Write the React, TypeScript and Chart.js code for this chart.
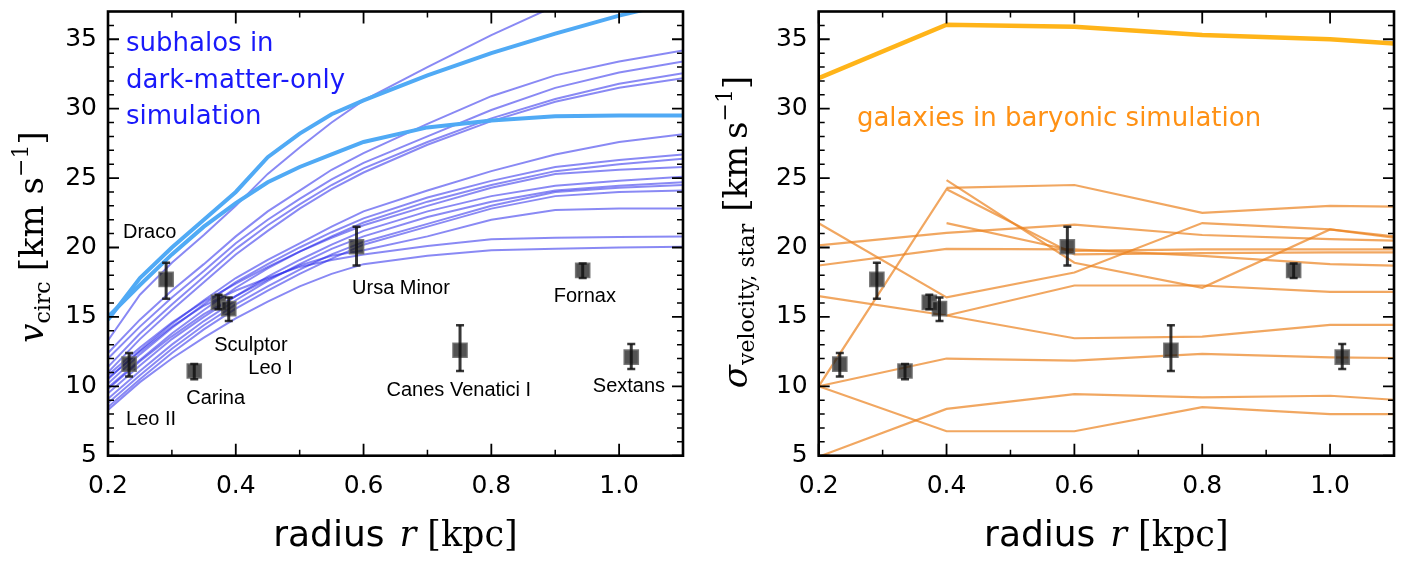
import React, { useEffect, useRef } from 'react';
import { Chart, registerables } from 'chart.js';

Chart.register(...registerables);

// ---------------- data ----------------
const radiusGridDM = [0.2, 0.25, 0.3, 0.35, 0.4, 0.45, 0.5, 0.55, 0.6, 0.7, 0.8, 0.9, 1.0, 1.1];

const dmThickA = [14.8, 17.8, 20.0, 22.0, 24.0, 26.5, 28.2, 29.6, 30.6, 32.4, 34.0, 35.4, 36.7, 37.8];
const dmThickB = [15.0, 17.3, 19.5, 21.5, 23.2, 24.7, 25.8, 26.7, 27.6, 28.65, 29.15, 29.45, 29.5, 29.5];

const dmSub01 = [13.3, 16.6, 18.9, 20.9, 23.0, 25.3, 27.2, 29.0, 30.6, 33.0, 35.3, 37.4, 39.2, 40.8];
const dmSub02 = [12.4, 14.8, 16.9, 18.8, 20.8, 22.6, 24.1, 25.6, 26.8, 28.9, 30.9, 32.4, 33.4, 34.2];
const dmSub03 = [12.0, 14.3, 16.4, 18.3, 20.3, 22.0, 23.5, 24.9, 26.1, 28.0, 29.9, 31.5, 32.6, 33.4];
const dmSub04 = [11.4, 13.8, 15.9, 17.9, 19.9, 21.6, 23.1, 24.5, 25.7, 27.6, 29.3, 30.7, 31.8, 32.55];
const dmSub05 = [11.0, 13.4, 15.5, 17.5, 19.5, 21.2, 22.8, 24.2, 25.4, 27.4, 29.1, 30.5, 31.5, 32.2];
const dmSub06 = [10.5, 12.6, 14.5, 16.2, 17.8, 19.1, 20.3, 21.5, 22.6, 24.1, 25.5, 26.7, 27.6, 28.15];
const dmSub07 = [10.2, 12.3, 14.2, 15.9, 17.5, 18.8, 20.0, 21.1, 22.1, 23.6, 24.8, 25.8, 26.3, 26.7];
const dmSub08 = [9.9, 11.9, 13.8, 15.5, 17.1, 18.5, 19.7, 20.8, 21.8, 23.3, 24.5, 25.5, 26.0, 26.4];
const dmSub09 = [10.8, 12.8, 14.6, 16.1, 17.4, 18.6, 19.7, 20.7, 21.6, 23.0, 24.3, 25.3, 25.6, 25.8];
const dmSub10 = [9.5, 11.5, 13.4, 15.0, 16.5, 17.9, 19.1, 20.2, 21.2, 22.6, 23.7, 24.45, 24.8, 25.1];
const dmSub11 = [9.1, 11.1, 13.0, 14.7, 16.2, 17.6, 18.8, 19.9, 20.8, 22.2, 23.3, 24.1, 24.45, 24.7];
const dmSub12 = [8.8, 10.8, 12.7, 14.4, 15.9, 17.2, 18.4, 19.5, 20.4, 21.7, 23.0, 24.0, 24.3, 24.5];
const dmSub13 = [8.5, 10.5, 12.4, 14.1, 15.6, 16.9, 18.1, 19.2, 20.2, 21.5, 22.8, 23.7, 24.0, 24.1];
const dmSub14 = [9.8, 11.8, 13.6, 15.2, 16.5, 17.7, 18.7, 19.4, 19.8, 20.8, 22.0, 22.7, 22.8, 22.8];
const dmSub15 = [10.6, 12.5, 14.3, 15.8, 16.9, 17.8, 18.6, 19.1, 19.5, 20.1, 20.6, 20.7, 20.75, 20.8];
const dmSub16 = [8.3, 10.3, 12.0, 13.5, 14.9, 16.1, 17.2, 18.1, 18.8, 19.4, 19.8, 19.9, 20.0, 20.05];

const dmThinSeries = [dmSub01, dmSub02, dmSub03, dmSub04, dmSub05, dmSub06, dmSub07, dmSub08,
  dmSub09, dmSub10, dmSub11, dmSub12, dmSub13, dmSub14, dmSub15, dmSub16];

const radiusGridBary = [0.2, 0.4, 0.6, 0.8, 1.0, 1.1];

const baryThick = [32.2, 36.05, 35.9, 35.3, 35.0, 34.7];
const bary01 = [null, 24.3, 24.5, 22.5, 23.0, 22.95];
const bary02 = [10.0, 24.2, 19.5, 19.6, 19.65, 19.65];
const bary03 = [null, 24.85, 18.9, 17.1, 21.3, 20.8];
const bary04 = [null, 21.75, 19.75, 19.87, 19.87, 19.87];
const bary05 = [20.15, 21.05, 21.65, 20.9, 20.6, 20.5];
const bary06 = [21.75, 16.4, 18.2, 21.76, 21.3, 20.7];
const bary07 = [18.7, 19.9, 19.87, 19.4, 18.8, 18.7];
const bary08 = [null, 15.1, 17.26, 17.26, 16.8, 16.8];
const bary09 = [16.5, 15.1, 13.46, 13.58, 14.42, 14.42];
const bary10 = [10.0, 12.0, 11.85, 12.33, 12.09, 12.04];
const bary11 = [10.0, 6.76, 6.76, 8.5, 8.0, 8.0];
const bary12 = [4.93, 8.37, 9.44, 9.2, 9.32, 9.03];

const baryThinSeries = [bary01, bary02, bary03, bary04, bary05, bary06, bary07, bary08,
  bary09, bary10, bary11, bary12];

const galaxyNames = ['Leo II', 'Draco', 'Carina', 'Sculptor', 'Leo I', 'Ursa Minor', 'Canes Venatici I', 'Fornax', 'Sextans'];
const galaxyRadius = [0.233, 0.291, 0.335, 0.373, 0.389, 0.589, 0.751, 0.943, 1.019];
const galaxyVel = [11.6, 17.7, 11.1, 16.05, 15.6, 20.05, 12.6, 18.35, 12.1];
const galaxyErrMinus = [0.9, 1.4, 0.6, 0.5, 0.9, 1.35, 1.5, 0.55, 0.85];
const galaxyErrPlus = [0.8, 1.2, 0.5, 0.55, 0.8, 1.45, 1.8, 0.5, 0.95];

const xMajorTicks = [0.2, 0.4, 0.6, 0.8, 1.0];
const xMinorTicks = [0.3, 0.5, 0.7, 0.9];
const yMajorTicks = [5, 10, 15, 20, 25, 30, 35];
const yMinorTicks = [6, 7, 8, 9, 11, 12, 13, 14, 16, 17, 18, 19, 21, 22, 23, 24, 26, 27, 28, 29, 31, 32, 33, 34, 36];

// ---------------- layout / style ----------------
// galaxy label anchors (left, baseline) in data coordinates
const galaxyLabelAnchor: Record<string, [number, number]> = {
  'Draco': [0.2235, 20.7],
  'Leo II': [0.2282, 7.18],
  'Carina': [0.3224, 8.75],
  'Sculptor': [0.3663, 12.52],
  'Leo I': [0.4196, 10.88],
  'Ursa Minor': [0.582, 16.64],
  'Fornax': [0.8976, 16.07],
  'Canes Venatici I': [0.636, 9.32],
  'Sextans': [0.9588, 9.56],
};

const SANS = '"DejaVu Sans"';
const SERIF = '"DejaVu Serif"';
const LABEL_FONT = '20px "Liberation Sans"';

type Seg = { t: string; font: string; dy?: number; gap?: number };

function drawRich(ctx: CanvasRenderingContext2D, segs: Seg[], x: number, y: number, rotate: boolean, color: string) {
  ctx.save();
  ctx.translate(x, y);
  if (rotate) ctx.rotate(-Math.PI / 2);
  ctx.fillStyle = color;
  ctx.textAlign = 'left';
  ctx.textBaseline = 'alphabetic';
  const widths = segs.map((s) => {
    ctx.font = s.font;
    return ctx.measureText(s.t).width + (s.gap || 0);
  });
  const total = widths.reduce((a, b) => a + b, 0);
  let cx = -total / 2;
  segs.forEach((s, i) => {
    ctx.font = s.font;
    ctx.fillText(s.t, cx, s.dy || 0);
    cx += widths[i];
  });
  ctx.restore();
}

const xTitleSegs: Seg[] = [
  { t: 'radius', font: `36px ${SANS}`, gap: 15 },
  { t: 'r', font: `italic 35px ${SERIF}`, gap: 11 },
  { t: '[kpc]', font: `35px ${SERIF}` },
];

const leftYTitle: Seg[] = [
  { t: 'v', font: `italic 34px ${SERIF}` },
  { t: 'circ', font: `22px ${SERIF}`, dy: 7, gap: 10 },
  { t: '[km s', font: `34px ${SERIF}` },
  { t: '\u22121', font: `22px ${SERIF}`, dy: -15 },
  { t: ']', font: `34px ${SERIF}` },
];

const rightYTitle: Seg[] = [
  { t: '\u03c3', font: `italic 34px ${SERIF}` },
  { t: 'velocity, star', font: `22px ${SERIF}`, dy: 7, gap: 12 },
  { t: '[km\u2009s', font: `34px ${SERIF}` },
  { t: '\u22121', font: `22px ${SERIF}`, dy: -15 },
  { t: ']', font: `34px ${SERIF}` },
];

function framePlugin() {
  return {
    id: 'frame',
    afterDraw(chart: any) {
      const { ctx, chartArea: a, scales } = chart;
      const x = scales.x, y = scales.y;
      ctx.save();
      ctx.strokeStyle = '#000';
      ctx.lineCap = 'butt';
      const vtick = (v: number, len: number, w: number) => {
        const p = x.getPixelForValue(v);
        ctx.lineWidth = w;
        ctx.beginPath();
        ctx.moveTo(p, a.bottom); ctx.lineTo(p, a.bottom - len);
        ctx.moveTo(p, a.top); ctx.lineTo(p, a.top + len);
        ctx.stroke();
      };
      const htick = (v: number, len: number, w: number) => {
        const p = y.getPixelForValue(v);
        ctx.lineWidth = w;
        ctx.beginPath();
        ctx.moveTo(a.left, p); ctx.lineTo(a.left + len, p);
        ctx.moveTo(a.right, p); ctx.lineTo(a.right - len, p);
        ctx.stroke();
      };
      xMajorTicks.forEach((v) => vtick(v, 12, 1.8));
      xMinorTicks.forEach((v) => vtick(v, 6, 1.5));
      yMajorTicks.forEach((v) => htick(v, 11, 1.8));
      yMinorTicks.forEach((v) => htick(v, 6, 1.5));
      ctx.lineWidth = 2.6;
      ctx.strokeRect(a.left, a.top, a.right - a.left, a.bottom - a.top);
      ctx.restore();
    },
  };
}

function errorBarPlugin() {
  return {
    id: 'errbars',
    afterDatasetsDraw(chart: any) {
      const { ctx, scales } = chart;
      const x = scales.x, y = scales.y;
      ctx.save();
      ctx.strokeStyle = 'rgba(20,20,20,0.85)';
      galaxyRadius.forEach((r, i) => {
        const px = x.getPixelForValue(r);
        const top = y.getPixelForValue(galaxyVel[i] + galaxyErrPlus[i]);
        const bot = y.getPixelForValue(galaxyVel[i] - galaxyErrMinus[i]);
        ctx.lineWidth = 3;
        ctx.beginPath();
        ctx.moveTo(px, top); ctx.lineTo(px, bot);
        ctx.stroke();
        ctx.lineWidth = 2.5;
        ctx.beginPath();
        ctx.moveTo(px - 4, top); ctx.lineTo(px + 4, top);
        ctx.moveTo(px - 4, bot); ctx.lineTo(px + 4, bot);
        ctx.stroke();
      });
      ctx.restore();
    },
  };
}

function textPlugin(panel: 'left' | 'right') {
  return {
    id: 'texts',
    afterDraw(chart: any) {
      const { ctx, chartArea: a, scales } = chart;
      const x = scales.x, y = scales.y;
      const cx = (a.left + a.right) / 2;
      drawRich(ctx, xTitleSegs, cx, 546, false, '#000');
      if (panel === 'left') {
        drawRich(ctx, leftYTitle, 43, 237, true, '#000');
        ctx.save();
        ctx.font = LABEL_FONT;
        ctx.fillStyle = '#000';
        ctx.textAlign = 'left';
        ctx.textBaseline = 'alphabetic';
        galaxyNames.forEach((n) => {
          const an = galaxyLabelAnchor[n];
          ctx.fillText(n, x.getPixelForValue(an[0]), y.getPixelForValue(an[1]));
        });
        ctx.font = `26px ${SANS}`;
        ctx.fillStyle = 'rgb(25,25,250)';
        const lx = x.getPixelForValue(0.2282);
        ctx.fillText('subhalos in', lx, y.getPixelForValue(34.14));
        ctx.fillText('dark-matter-only', lx, y.getPixelForValue(31.49));
        ctx.fillText('simulation', lx, y.getPixelForValue(28.88));
        ctx.restore();
      } else {
        drawRich(ctx, rightYTitle, 47, 232, true, '#000');
        ctx.save();
        ctx.font = `26px ${SANS}`;
        ctx.fillStyle = 'rgb(255,145,20)';
        ctx.textAlign = 'left';
        ctx.textBaseline = 'alphabetic';
        ctx.fillText('galaxies in baryonic simulation', x.getPixelForValue(0.2598), y.getPixelForValue(28.76));
        ctx.restore();
      }
    },
  };
}

function pts(xs: number[], ys: (number | null)[]) {
  const out: { x: number; y: number }[] = [];
  xs.forEach((xv, i) => {
    const yv = ys[i];
    if (yv !== null && yv !== undefined) out.push({ x: xv, y: yv });
  });
  return out;
}

function buildConfig(panel: 'left' | 'right'): any {
  const isLeft = panel === 'left';
  const obs = {
    type: 'scatter',
    data: pts(galaxyRadius, galaxyVel),
    pointStyle: 'rect',
    pointRadius: 10,
    backgroundColor: 'rgba(25,25,25,0.75)',
    borderColor: 'rgba(110,110,110,0.9)',
    borderWidth: 1.5,
    showLine: false,
    clip: false,
  };
  const datasets: any[] = [obs];
  if (isLeft) {
    [dmThickA, dmThickB].forEach((s) => datasets.push({
      data: pts(radiusGridDM, s), borderColor: 'rgb(80,170,245)', borderWidth: 4,
      pointRadius: 0, tension: 0, fill: false,
    }));
    dmThinSeries.forEach((s) => datasets.push({
      data: pts(radiusGridDM, s), borderColor: 'rgba(40,40,235,0.55)', borderWidth: 2,
      pointRadius: 0, tension: 0, fill: false,
    }));
  } else {
    datasets.push({
      data: pts(radiusGridBary, baryThick), borderColor: 'rgb(255,180,25)', borderWidth: 4.5,
      pointRadius: 0, tension: 0, fill: false,
    });
    baryThinSeries.forEach((s) => datasets.push({
      data: pts(radiusGridBary, s), borderColor: 'rgba(235,130,30,0.7)', borderWidth: 2.2,
      pointRadius: 0, tension: 0, fill: false,
    }));
  }
  const yWidth = isLeft ? 108 : 118.7;
  const rightPad = isLeft ? 17 : 28;
  const zeroPad = (s: any) => { s.paddingLeft = 0; s.paddingRight = 0; s.paddingTop = 0; s.paddingBottom = 0; };
  return {
    type: 'line',
    data: { datasets },
    options: {
      responsive: false,
      animation: false,
      devicePixelRatio: 1,
      events: [],
      layout: { padding: { left: 0, right: rightPad, top: 7, bottom: 0 } },
      plugins: { legend: { display: false }, tooltip: { enabled: false } },
      scales: {
        x: {
          type: 'linear', min: 0.2, max: 1.1, position: 'bottom',
          grid: { display: false, drawTicks: false }, border: { display: false },
          ticks: {
            font: { family: 'DejaVu Sans', size: 25 }, color: '#000', padding: 16,
            maxRotation: 0, autoSkip: false,
            callback: (v: any) => Number(v).toFixed(1),
          },
          afterBuildTicks: (s: any) => { s.ticks = xMajorTicks.map((v) => ({ value: v })); },
          afterFit: (s: any) => { s.height = 105.3; zeroPad(s); },
        },
        y: {
          type: 'linear', min: 5, max: 37, position: 'left',
          grid: { display: false, drawTicks: false }, border: { display: false },
          ticks: {
            font: { family: 'DejaVu Sans', size: 25 }, color: '#000', padding: 11,
            autoSkip: false,
            callback: (v: any) => String(v),
          },
          afterBuildTicks: (s: any) => { s.ticks = yMajorTicks.map((v) => ({ value: v })); },
          afterFit: (s: any) => { s.width = yWidth; zeroPad(s); },
        },
      },
    },
    plugins: [errorBarPlugin(), framePlugin(), textPlugin(panel)],
  };
}

export default function App() {
  const leftRef = useRef<HTMLCanvasElement>(null);
  const rightRef = useRef<HTMLCanvasElement>(null);
  useEffect(() => {
    const c1 = new Chart(leftRef.current as HTMLCanvasElement, buildConfig('left'));
    const c2 = new Chart(rightRef.current as HTMLCanvasElement, buildConfig('right'));
    return () => { c1.destroy(); c2.destroy(); };
  }, []);
  return (
    <div style={{ position: 'absolute', left: 0, top: 0, width: 1422, height: 561, background: '#fff' }}>
      <canvas ref={leftRef} width={700} height={561}
        style={{ position: 'absolute', left: 0, top: 0, width: 700, height: 561 }} />
      <canvas ref={rightRef} width={722} height={561}
        style={{ position: 'absolute', left: 700, top: 0, width: 722, height: 561 }} />
    </div>
  );
}
